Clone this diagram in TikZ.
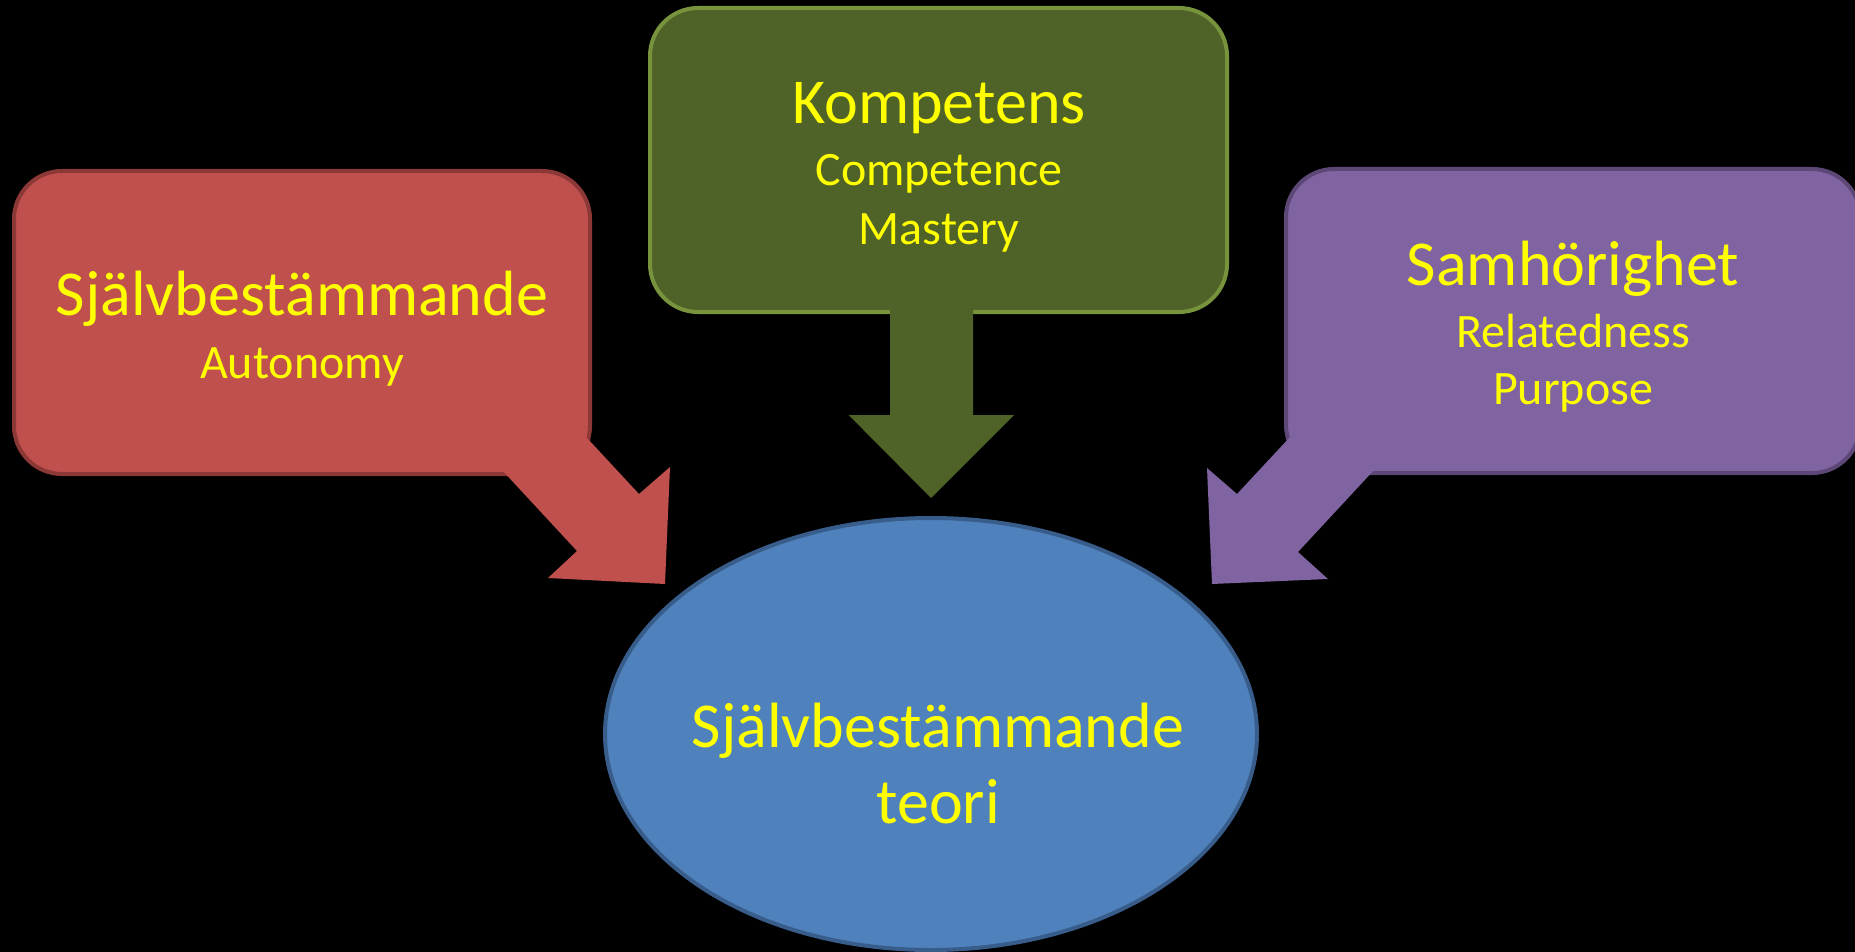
\documentclass[tikz,border=0pt]{standalone}
\usepackage{fontspec}
\setmainfont{Carlito}
\usetikzlibrary{shapes.geometric}
\definecolor{redfill}{HTML}{C0504D}
\definecolor{redline}{HTML}{8C3836}
\definecolor{greenfill}{HTML}{4F6228}
\definecolor{greenline}{HTML}{77933C}
\definecolor{purplefill}{HTML}{8064A2}
\definecolor{purpleline}{HTML}{5C4776}
\definecolor{bluefill}{HTML}{4F81BD}
\definecolor{blueline}{HTML}{385D8A}
\definecolor{txt}{HTML}{FFFF00}
\begin{document}
\begin{tikzpicture}[x=1pt,y=-1pt,
  box/.style={rectangle, rounded corners=48pt, line width=4pt, inner sep=0pt},
  big/.style={text=txt, font=\fontsize{64}{76}\selectfont, anchor=base, inner sep=0pt},
  small/.style={text=txt, font=\fontsize{48}{57}\selectfont, anchor=base, inner sep=0pt}]
\useasboundingbox (0,0) rectangle (1855,952);
\fill[black] (0,0) rectangle (1855,952);
% boxes
\node[box, draw=redline, fill=redfill, minimum width=576pt, minimum height=303pt] (red) at (302,322.5) {};
\node[box, draw=greenline, fill=greenfill, minimum width=577pt, minimum height=304pt] (green) at (938.5,160) {};
\node[box, draw=purpleline, fill=purplefill, minimum width=574pt, minimum height=304pt] (purple) at (1573,321) {};
% arrows
\fill[redfill] (463,428) -- (577,551) -- (548,578) -- (665,584) -- (670,467) -- (639,494) -- (548,396) -- cycle;
\fill[greenfill] (890,280) -- (890,415) -- (848.6,415) -- (931,498) -- (1014,415) -- (973,415) -- (973,280) -- cycle;
\fill[purplefill] (1331,393) -- (1237,494) -- (1207,468) -- (1212,584) -- (1328,579) -- (1298,552) -- (1413,428) -- cycle;
% core
\node[ellipse, draw=blueline, fill=bluefill, line width=4pt, minimum width=652pt, minimum height=432pt, inner sep=0pt] (core) at (931,734) {};
% texts
\node[big] (t1) at (302,315) {Självbestämmande};
\node[small] (t2) at (302,378) {Autonomy};
\node[big] (t3) at (939,124) {Kompetens};
\node[small] (t4) at (939,186) {Competence};
\node[small] (t5) at (939,244) {Mastery};
\node[big] (t6) at (1573,285) {Samhörighet};
\node[small] (t7) at (1573,347) {Relatedness};
\node[small] (t8) at (1573,404) {Purpose};
\node[big] (t9) at (938,747) {Självbestämmande};
\node[big] (t10) at (938,823) {teori};
\end{tikzpicture}
\end{document}
